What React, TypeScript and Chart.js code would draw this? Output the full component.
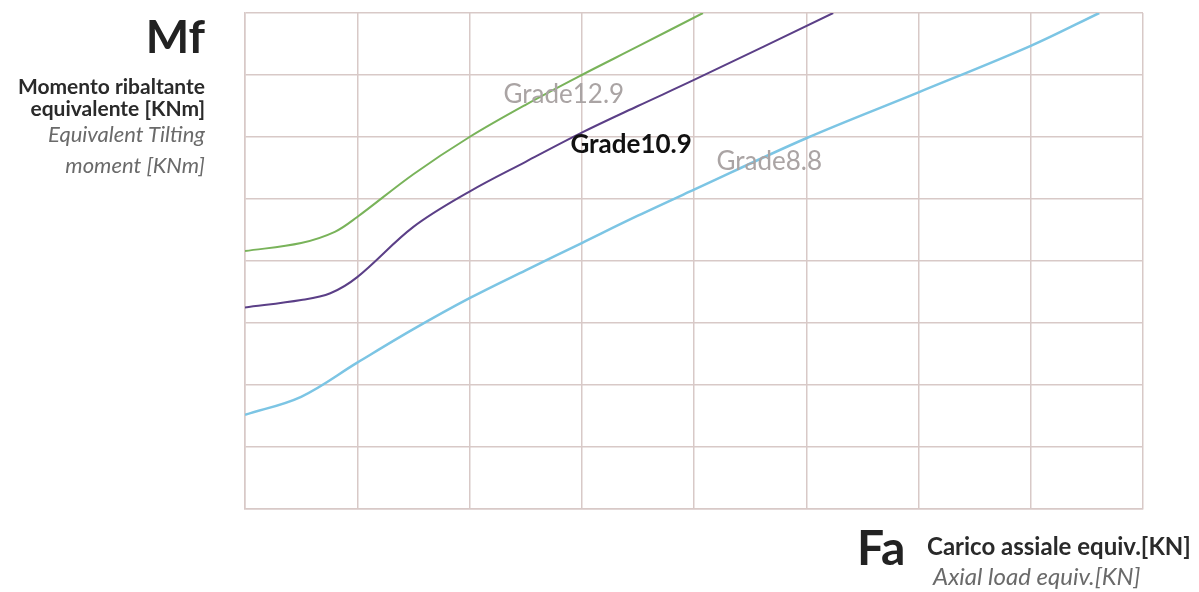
import React, { useEffect, useRef } from "react";
import { Chart, registerables } from "chart.js";

Chart.register(...registerables);

// Axial load (grid units) and tilting moment (grid units)
const fa129 = [0, 0.5, 0.8, 1, 1.5, 2, 2.5, 3, 3.5, 4.08];
const mf129 = [4.16, 4.29, 4.47, 4.71, 5.4, 6.0, 6.52, 7.0, 7.46, 8.0];

const fa109 = [0, 0.5, 0.76, 1, 1.5, 2, 2.5, 3, 3.5, 4, 5.24];
const mf109 = [3.25, 3.37, 3.48, 3.74, 4.55, 5.12, 5.6, 6.07, 6.5, 6.92, 8.0];

const fa88 = [0, 0.5, 1, 1.5, 2, 2.5, 3, 3.5, 4, 5, 6, 7, 7.61];
const mf88 = [1.52, 1.81, 2.36, 2.9, 3.4, 3.85, 4.29, 4.73, 5.15, 5.98, 6.72, 7.47, 8.0];

const seriesNames = ["Grade12.9", "Grade10.9", "Grade8.8"];
const labelFa = [2.84, 3.44, 4.67];
const labelMf = [6.68, 5.87, 5.6];

const FONT = "Lato, 'Open Sans', sans-serif";

const toPoints = (xs: number[], ys: number[]) => xs.map((x, i) => ({ x, y: ys[i] }));

const labelPlugin = {
  id: "gradeLabels",
  afterDatasetsDraw(chart: any) {
    const { ctx, scales } = chart;
    const styles = [
      { font: `400 26px ${FONT}`, color: "#aaa4a4" },
      { font: `700 26px ${FONT}`, color: "#111111" },
      { font: `400 26px ${FONT}`, color: "#aaa4a4" },
    ];
    ctx.save();
    ctx.textAlign = "center";
    ctx.textBaseline = "middle";
    seriesNames.forEach((name, i) => {
      const px = scales.x.getPixelForValue(labelFa[i]);
      const py = scales.y.getPixelForValue(labelMf[i]);
      ctx.font = styles[i].font;
      ctx.fillStyle = styles[i].color;
      ctx.fillText(name, px, py);
    });
    ctx.restore();
  },
};

export default function App() {
  const canvasRef = useRef<HTMLCanvasElement | null>(null);

  useEffect(() => {
    if (!canvasRef.current) return;
    const chart = new Chart(canvasRef.current, {
      type: "line",
      data: {
        datasets: [
          {
            label: seriesNames[0],
            data: toPoints(fa129, mf129),
            borderColor: "#79b35a",
            borderWidth: 2,
            pointRadius: 0,
            tension: 0.35,
          },
          {
            label: seriesNames[1],
            data: toPoints(fa109, mf109),
            borderColor: "#5b3f87",
            borderWidth: 2,
            pointRadius: 0,
            tension: 0.35,
          },
          {
            label: seriesNames[2],
            data: toPoints(fa88, mf88),
            borderColor: "#7cc5e4",
            borderWidth: 2.5,
            pointRadius: 0,
            tension: 0.35,
          },
        ],
      },
      options: {
        animation: false,
        responsive: false,
        maintainAspectRatio: false,
        layout: { padding: { left: 245, right: 56, top: 13, bottom: 83 } },
        plugins: { legend: { display: false }, tooltip: { enabled: false } },
        scales: {
          x: {
            type: "linear",
            min: 0,
            max: 8,
            ticks: { display: false, stepSize: 1 },
            grid: { color: "#d8c9c7", lineWidth: 1.5, drawTicks: false },
            border: { color: "#d8c9c7", width: 1.5 },
          },
          y: {
            type: "linear",
            min: 0,
            max: 8,
            ticks: { display: false, stepSize: 1 },
            grid: { color: "#d8c9c7", lineWidth: 1.5, drawTicks: false },
            border: { color: "#d8c9c7", width: 1.5 },
          },
        },
      },
      plugins: [labelPlugin],
    });
    return () => chart.destroy();
  }, []);

  const abs = (s: React.CSSProperties): React.CSSProperties => ({ position: "absolute", whiteSpace: "nowrap", fontFamily: FONT, lineHeight: 1.2, ...s });

  return (
    <div style={{ position: "fixed", left: 0, top: 0, width: 1199, height: 592, background: "#ffffff", overflow: "hidden" }}>
      <canvas ref={canvasRef} width={1199} height={592} style={{ position: "absolute", left: 0, top: 0, width: 1199, height: 592 }} />
      <div style={abs({ right: 1199 - 205, top: 8, fontSize: 46, fontWeight: 700, color: "#222" })}>Mf</div>
      <div style={abs({ right: 1199 - 205, top: 73, fontSize: 21, fontWeight: 700, color: "#2a2a2a" })}>Momento ribaltante</div>
      <div style={abs({ right: 1199 - 205, top: 95, fontSize: 21, fontWeight: 700, color: "#2a2a2a" })}>equivalente [KNm]</div>
      <div style={abs({ right: 1199 - 205, top: 121, fontSize: 22, fontStyle: "italic", color: "#6a6a6a" })}>Equivalent Tilting</div>
      <div style={abs({ right: 1199 - 205, top: 152, fontSize: 22, fontStyle: "italic", color: "#6a6a6a" })}>moment [KNm]</div>
      <div style={abs({ left: 857, top: 518, fontSize: 48, fontWeight: 700, color: "#222" })}>Fa</div>
      <div style={abs({ left: 927, top: 532, fontSize: 24, fontWeight: 700, color: "#2a2a2a" })}>Carico assiale equiv.[KN]</div>
      <div style={abs({ left: 933, top: 562, fontSize: 24, fontStyle: "italic", color: "#6a6a6a" })}>Axial load equiv.[KN]</div>
    </div>
  );
}
